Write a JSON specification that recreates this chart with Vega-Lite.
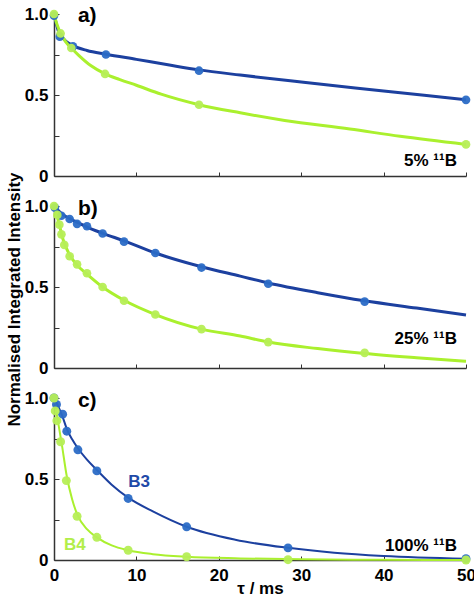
{
  "$schema": "https://vega.github.io/schema/vega-lite/v6.json",
  "padding": {"left": 5, "top": 5, "right": 0, "bottom": 0},
  "background": "white",
  "bounds": "flush",
  "spacing": 30,
  "datasets": {
    "a_obs": [
      {"s": "B3", "t": 0, "I": 0.99}, {"s": "B3", "t": 0.7, "I": 0.86}, {"s": "B3", "t": 2.3, "I": 0.8},
      {"s": "B3", "t": 6.3, "I": 0.75}, {"s": "B3", "t": 17.6, "I": 0.65}, {"s": "B3", "t": 50, "I": 0.47},
      {"s": "B4", "t": 0, "I": 1.0}, {"s": "B4", "t": 0.8, "I": 0.88}, {"s": "B4", "t": 2.1, "I": 0.79},
      {"s": "B4", "t": 6.2, "I": 0.63}, {"s": "B4", "t": 17.6, "I": 0.44}, {"s": "B4", "t": 50, "I": 0.195}
    ],
    "a_fit": [
      {"s": "B3", "t": 0, "I": 1.0}, {"s": "B3", "t": 0.5, "I": 0.9}, {"s": "B3", "t": 1, "I": 0.855},
      {"s": "B3", "t": 1.5, "I": 0.83}, {"s": "B3", "t": 2.3, "I": 0.805}, {"s": "B3", "t": 4, "I": 0.775},
      {"s": "B3", "t": 6.3, "I": 0.752}, {"s": "B3", "t": 10, "I": 0.72}, {"s": "B3", "t": 14, "I": 0.685},
      {"s": "B3", "t": 17.6, "I": 0.655}, {"s": "B3", "t": 22.6, "I": 0.623}, {"s": "B3", "t": 30, "I": 0.58},
      {"s": "B3", "t": 40, "I": 0.525}, {"s": "B3", "t": 50, "I": 0.47},
      {"s": "B4", "t": 0, "I": 1.0}, {"s": "B4", "t": 0.4, "I": 0.93}, {"s": "B4", "t": 0.8, "I": 0.88},
      {"s": "B4", "t": 1.4, "I": 0.83}, {"s": "B4", "t": 2.1, "I": 0.79}, {"s": "B4", "t": 3, "I": 0.745},
      {"s": "B4", "t": 4.5, "I": 0.68}, {"s": "B4", "t": 6.2, "I": 0.63}, {"s": "B4", "t": 8, "I": 0.595},
      {"s": "B4", "t": 10, "I": 0.56}, {"s": "B4", "t": 13, "I": 0.505}, {"s": "B4", "t": 17.6, "I": 0.44},
      {"s": "B4", "t": 22.6, "I": 0.39}, {"s": "B4", "t": 28, "I": 0.343}, {"s": "B4", "t": 35.9, "I": 0.29},
      {"s": "B4", "t": 42, "I": 0.245}, {"s": "B4", "t": 50, "I": 0.195}
    ],
    "b_obs": [
      {"s": "B3", "t": 0.1, "I": 0.99}, {"s": "B3", "t": 0.9, "I": 0.94}, {"s": "B3", "t": 1.9, "I": 0.92},
      {"s": "B3", "t": 2.8, "I": 0.89}, {"s": "B3", "t": 4.0, "I": 0.875}, {"s": "B3", "t": 5.9, "I": 0.83},
      {"s": "B3", "t": 8.5, "I": 0.78}, {"s": "B3", "t": 12.3, "I": 0.71}, {"s": "B3", "t": 17.9, "I": 0.62},
      {"s": "B3", "t": 26.0, "I": 0.52}, {"s": "B3", "t": 37.7, "I": 0.41},
      {"s": "B4", "t": 0, "I": 1.0}, {"s": "B4", "t": 0.4, "I": 0.945}, {"s": "B4", "t": 0.65, "I": 0.885},
      {"s": "B4", "t": 0.9, "I": 0.825}, {"s": "B4", "t": 1.25, "I": 0.76}, {"s": "B4", "t": 1.9, "I": 0.69},
      {"s": "B4", "t": 2.8, "I": 0.64}, {"s": "B4", "t": 4.0, "I": 0.585}, {"s": "B4", "t": 5.9, "I": 0.5},
      {"s": "B4", "t": 8.5, "I": 0.415}, {"s": "B4", "t": 12.3, "I": 0.33}, {"s": "B4", "t": 17.9, "I": 0.24},
      {"s": "B4", "t": 26.0, "I": 0.16}, {"s": "B4", "t": 37.7, "I": 0.093}
    ],
    "b_fit": [
      {"s": "B3", "t": 0, "I": 1.0}, {"s": "B3", "t": 1, "I": 0.95}, {"s": "B3", "t": 2, "I": 0.92},
      {"s": "B3", "t": 3, "I": 0.895}, {"s": "B3", "t": 4, "I": 0.87}, {"s": "B3", "t": 6, "I": 0.83},
      {"s": "B3", "t": 8.5, "I": 0.785}, {"s": "B3", "t": 12.3, "I": 0.71}, {"s": "B3", "t": 17.9, "I": 0.625},
      {"s": "B3", "t": 22.6, "I": 0.567}, {"s": "B3", "t": 26, "I": 0.525}, {"s": "B3", "t": 32, "I": 0.465},
      {"s": "B3", "t": 37.7, "I": 0.415}, {"s": "B3", "t": 44, "I": 0.37}, {"s": "B3", "t": 50, "I": 0.327},
      {"s": "B4", "t": 0, "I": 1.0}, {"s": "B4", "t": 0.3, "I": 0.95}, {"s": "B4", "t": 0.65, "I": 0.885},
      {"s": "B4", "t": 1, "I": 0.81}, {"s": "B4", "t": 1.5, "I": 0.74}, {"s": "B4", "t": 2, "I": 0.69},
      {"s": "B4", "t": 2.8, "I": 0.635}, {"s": "B4", "t": 4, "I": 0.58}, {"s": "B4", "t": 5.9, "I": 0.5},
      {"s": "B4", "t": 8.5, "I": 0.418}, {"s": "B4", "t": 12.3, "I": 0.33}, {"s": "B4", "t": 17.9, "I": 0.24},
      {"s": "B4", "t": 22.6, "I": 0.197}, {"s": "B4", "t": 26, "I": 0.16}, {"s": "B4", "t": 32, "I": 0.12},
      {"s": "B4", "t": 37.7, "I": 0.09}, {"s": "B4", "t": 44, "I": 0.064}, {"s": "B4", "t": 50, "I": 0.042}
    ],
    "c_obs": [
      {"s": "B3", "t": 0, "I": 1.0}, {"s": "B3", "t": 0.3, "I": 0.96}, {"s": "B3", "t": 1.05, "I": 0.9},
      {"s": "B3", "t": 1.55, "I": 0.795}, {"s": "B3", "t": 2.9, "I": 0.68}, {"s": "B3", "t": 5.2, "I": 0.55},
      {"s": "B3", "t": 9.0, "I": 0.38}, {"s": "B3", "t": 16.1, "I": 0.205}, {"s": "B3", "t": 28.4, "I": 0.075},
      {"s": "B3", "t": 50, "I": 0.008},
      {"s": "B4", "t": 0, "I": 1.0}, {"s": "B4", "t": 0.15, "I": 0.92}, {"s": "B4", "t": 0.35, "I": 0.86},
      {"s": "B4", "t": 0.8, "I": 0.73}, {"s": "B4", "t": 1.5, "I": 0.49}, {"s": "B4", "t": 2.8, "I": 0.27},
      {"s": "B4", "t": 5.2, "I": 0.14}, {"s": "B4", "t": 9.0, "I": 0.06}, {"s": "B4", "t": 16.1, "I": 0.02},
      {"s": "B4", "t": 28.4, "I": 0.002}, {"s": "B4", "t": 50, "I": 0.0}
    ],
    "c_fit": [
      {"s": "B3", "t": 0, "I": 1.0}, {"s": "B3", "t": 0.5, "I": 0.95}, {"s": "B3", "t": 1, "I": 0.89},
      {"s": "B3", "t": 1.55, "I": 0.81}, {"s": "B3", "t": 2.2, "I": 0.745}, {"s": "B3", "t": 2.9, "I": 0.69},
      {"s": "B3", "t": 4, "I": 0.62}, {"s": "B3", "t": 5.2, "I": 0.556}, {"s": "B3", "t": 7, "I": 0.465},
      {"s": "B3", "t": 9, "I": 0.385}, {"s": "B3", "t": 12, "I": 0.3}, {"s": "B3", "t": 16.1, "I": 0.205},
      {"s": "B3", "t": 22, "I": 0.125}, {"s": "B3", "t": 28.4, "I": 0.075}, {"s": "B3", "t": 34, "I": 0.045},
      {"s": "B3", "t": 40, "I": 0.025}, {"s": "B3", "t": 50, "I": 0.008},
      {"s": "B4", "t": 0, "I": 1.0}, {"s": "B4", "t": 0.3, "I": 0.91}, {"s": "B4", "t": 0.6, "I": 0.82},
      {"s": "B4", "t": 0.93, "I": 0.72}, {"s": "B4", "t": 1.54, "I": 0.52}, {"s": "B4", "t": 2.2, "I": 0.375},
      {"s": "B4", "t": 2.83, "I": 0.28}, {"s": "B4", "t": 4, "I": 0.19}, {"s": "B4", "t": 5.2, "I": 0.14},
      {"s": "B4", "t": 7, "I": 0.09}, {"s": "B4", "t": 9, "I": 0.06}, {"s": "B4", "t": 12, "I": 0.036},
      {"s": "B4", "t": 16.1, "I": 0.02}, {"s": "B4", "t": 22.6, "I": 0.01}, {"s": "B4", "t": 30, "I": 0.004},
      {"s": "B4", "t": 40, "I": 0.001}, {"s": "B4", "t": 50, "I": 0.0}
    ],
    "one": [{}]
  },
  "vconcat": [
    {
      "width": 412, "height": 162,
      "layer": [
        {
          "data": {"name": "a_fit"},
          "mark": {"type": "line", "interpolate": "monotone", "strokeWidth": 3},
          "encoding": {
            "x": {"field": "t", "type": "quantitative", "scale": {"domain": [0, 50], "nice": false},
                  "axis": {"values": [0, 10, 20, 30, 40, 50], "labels": false, "title": null}},
            "y": {"field": "I", "type": "quantitative", "scale": {"domain": [0, 1], "nice": false},
                  "axis": {"values": [0, 0.25, 0.5, 0.75, 1], "title": null,
                           "labelExpr": "datum.value == 0 ? '0' : datum.value == 0.5 ? '0.5' : datum.value == 1 ? '1.0' : ''"}},
            "color": {"field": "s", "type": "nominal", "scale": {"domain": ["B3", "B4"], "range": ["#1c409f", "#aaf02e"]}, "legend": null}
          }
        },
        {
          "data": {"name": "a_obs"},
          "mark": {"type": "point", "filled": true, "size": 75, "opacity": 0.95},
          "encoding": {
            "x": {"field": "t", "type": "quantitative"},
            "y": {"field": "I", "type": "quantitative"},
            "fill": {"field": "s", "type": "nominal", "scale": {"domain": ["B3", "B4"], "range": ["#2b6cc6", "#b6ee56"]}, "legend": null}
          }
        },
        {
          "data": {"name": "one"},
          "mark": {"type": "text", "align": "left", "baseline": "middle", "font": "Liberation Sans", "fontWeight": "bold", "fontSize": 21, "color": "black"},
          "encoding": {"x": {"datum": 2.9}, "y": {"datum": 0.985}, "text": {"value": "a)"}}
        },
        {
          "data": {"name": "one"},
          "mark": {"type": "text", "align": "right", "baseline": "alphabetic", "font": "Liberation Sans", "fontWeight": "bold", "fontSize": 17, "color": "black"},
          "encoding": {"x": {"datum": 48.9}, "y": {"datum": 0.062}, "text": {"value": "5% ¹¹B"}}
        }
      ]
    },
    {
      "width": 412, "height": 162,
      "layer": [
        {
          "data": {"name": "b_fit"},
          "mark": {"type": "line", "interpolate": "monotone", "strokeWidth": 3},
          "encoding": {
            "x": {"field": "t", "type": "quantitative", "scale": {"domain": [0, 50], "nice": false},
                  "axis": {"values": [0, 10, 20, 30, 40, 50], "labels": false, "title": null}},
            "y": {"field": "I", "type": "quantitative", "scale": {"domain": [0, 1], "nice": false},
                  "axis": {"values": [0, 0.25, 0.5, 0.75, 1], "title": "Normalised Integrated Intensity", "titleY": 93,
                           "labelExpr": "datum.value == 0 ? '0' : datum.value == 0.5 ? '0.5' : datum.value == 1 ? '1.0' : ''"}},
            "color": {"field": "s", "type": "nominal", "scale": {"domain": ["B3", "B4"], "range": ["#1c409f", "#aaf02e"]}, "legend": null}
          }
        },
        {
          "data": {"name": "b_obs"},
          "mark": {"type": "point", "filled": true, "size": 75, "opacity": 0.95},
          "encoding": {
            "x": {"field": "t", "type": "quantitative"},
            "y": {"field": "I", "type": "quantitative"},
            "fill": {"field": "s", "type": "nominal", "scale": {"domain": ["B3", "B4"], "range": ["#2b6cc6", "#b6ee56"]}, "legend": null}
          }
        },
        {
          "data": {"name": "one"},
          "mark": {"type": "text", "align": "left", "baseline": "middle", "font": "Liberation Sans", "fontWeight": "bold", "fontSize": 21, "color": "black"},
          "encoding": {"x": {"datum": 2.9}, "y": {"datum": 0.98}, "text": {"value": "b)"}}
        },
        {
          "data": {"name": "one"},
          "mark": {"type": "text", "align": "right", "baseline": "alphabetic", "font": "Liberation Sans", "fontWeight": "bold", "fontSize": 17, "color": "black"},
          "encoding": {"x": {"datum": 48.9}, "y": {"datum": 0.147}, "text": {"value": "25% ¹¹B"}}
        }
      ]
    },
    {
      "width": 412, "height": 162,
      "layer": [
        {
          "data": {"name": "c_fit"},
          "mark": {"type": "line", "interpolate": "monotone", "strokeWidth": 2},
          "encoding": {
            "x": {"field": "t", "type": "quantitative", "scale": {"domain": [0, 50], "nice": false},
                  "axis": {"values": [0, 10, 20, 30, 40, 50], "title": "τ / ms"}},
            "y": {"field": "I", "type": "quantitative", "scale": {"domain": [0, 1], "nice": false},
                  "axis": {"values": [0, 0.25, 0.5, 0.75, 1], "title": null,
                           "labelExpr": "datum.value == 0 ? '0' : datum.value == 0.5 ? '0.5' : datum.value == 1 ? '1.0' : ''"}},
            "color": {"field": "s", "type": "nominal", "scale": {"domain": ["B3", "B4"], "range": ["#1c409f", "#aaf02e"]}, "legend": null}
          }
        },
        {
          "data": {"name": "c_obs"},
          "mark": {"type": "point", "filled": true, "size": 80, "opacity": 0.95},
          "encoding": {
            "x": {"field": "t", "type": "quantitative"},
            "y": {"field": "I", "type": "quantitative"},
            "fill": {"field": "s", "type": "nominal", "scale": {"domain": ["B3", "B4"], "range": ["#2b6cc6", "#b6ee56"]}, "legend": null}
          }
        },
        {
          "data": {"name": "one"},
          "mark": {"type": "text", "align": "left", "baseline": "middle", "font": "Liberation Sans", "fontWeight": "bold", "fontSize": 21, "color": "black"},
          "encoding": {"x": {"datum": 2.9}, "y": {"datum": 0.98}, "text": {"value": "c)"}}
        },
        {
          "data": {"name": "one"},
          "mark": {"type": "text", "align": "right", "baseline": "alphabetic", "font": "Liberation Sans", "fontWeight": "bold", "fontSize": 17, "color": "black"},
          "encoding": {"x": {"datum": 48.9}, "y": {"datum": 0.054}, "text": {"value": "100% ¹¹B"}}
        },
        {
          "data": {"name": "one"},
          "mark": {"type": "text", "align": "left", "baseline": "alphabetic", "font": "Liberation Sans", "fontWeight": "bold", "fontSize": 17, "color": "#1f4aa8"},
          "encoding": {"x": {"datum": 9.0}, "y": {"datum": 0.453}, "text": {"value": "B3"}}
        },
        {
          "data": {"name": "one"},
          "mark": {"type": "text", "align": "left", "baseline": "alphabetic", "font": "Liberation Sans", "fontWeight": "bold", "fontSize": 17, "color": "#b2ee4a"},
          "encoding": {"x": {"datum": 1.2}, "y": {"datum": 0.06}, "text": {"value": "B4"}}
        }
      ]
    }
  ],
  "config": {
    "view": {"stroke": null},
    "axis": {
      "grid": false,
      "labelFlush": false,
      "domainColor": "#333333",
      "domainWidth": 1.5,
      "tickColor": "#333333",
      "tickWidth": 1,
      "labelFont": "Liberation Sans",
      "labelFontWeight": "bold",
      "labelFontSize": 17,
      "labelColor": "black",
      "titleFont": "Liberation Sans",
      "titleFontWeight": "bold",
      "titleFontSize": 17,
      "titleColor": "black"
    },
    "axisY": {"tickSize": -5, "labelPadding": 11, "titlePadding": 1},
    "axisX": {"tickSize": -4, "labelPadding": 11, "labelAngle": 0, "titlePadding": -3}
  }
}
